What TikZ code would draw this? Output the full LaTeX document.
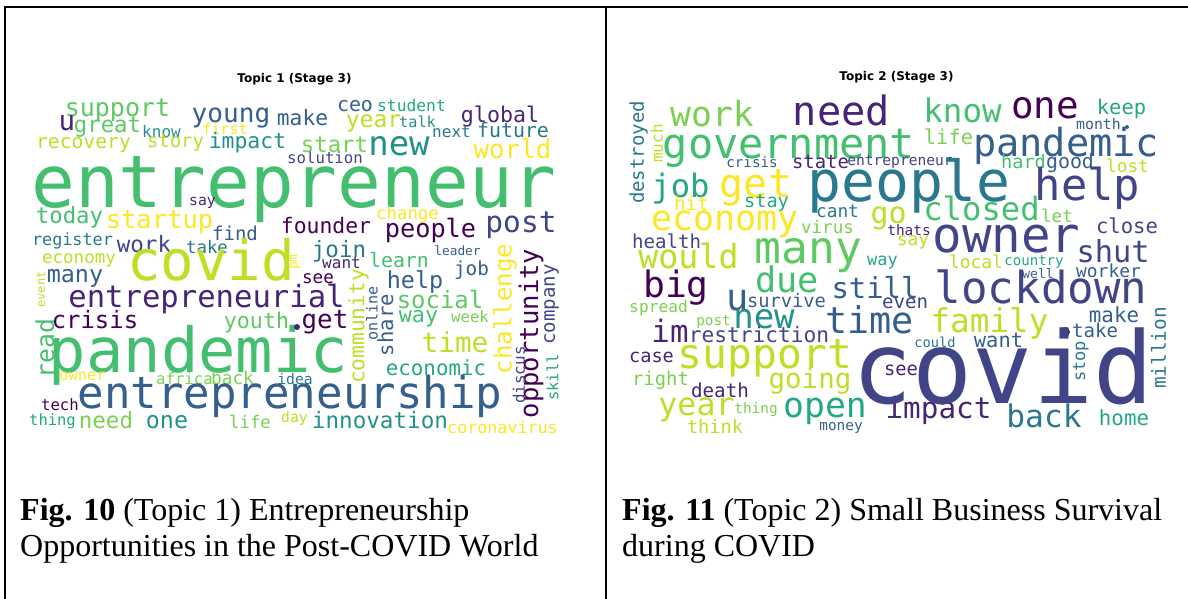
\documentclass[tikz,border=0pt]{standalone}
\usepackage{fontspec}
\setmainfont{Liberation Serif}
\newfontfamily\wcfont{DejaVu Sans Mono}
\newfontfamily\ttlfont{DejaVu Sans}
\definecolor{v1}{HTML}{440154}
\definecolor{v2}{HTML}{482475}
\definecolor{v3}{HTML}{414487}
\definecolor{v4}{HTML}{355F8D}
\definecolor{v5}{HTML}{2A788E}
\definecolor{v6}{HTML}{21918C}
\definecolor{v65}{HTML}{22A884}
\definecolor{v7}{HTML}{44BF70}
\definecolor{v75}{HTML}{5EC962}
\definecolor{v8}{HTML}{7AD151}
\definecolor{v9}{HTML}{BDDF26}
\definecolor{v10}{HTML}{FDE725}
\newcounter{wcn}
\tikzset{
  wordh/.style={anchor=base,inner sep=0pt,outer sep=0pt},
  wordv/.style={anchor=center,inner sep=0pt,outer sep=0pt,rotate=90},
  frameline/.style={line width=2pt,black},
  caption/.style={anchor=base west,inner sep=0pt,font=\fontsize{32}{36}\selectfont},
  ttl/.style={anchor=center,inner sep=0pt,font=\ttlfont\bfseries\fontsize{12}{12}\selectfont}
}
\newcommand\WH[5]{\stepcounter{wcn}\node[wordh,text=#4,font=\wcfont\fontsize{#3}{#3}\selectfont] (w\arabic{wcn}) at (#1,#2) {#5};}
\newcommand\WV[5]{\stepcounter{wcn}\node[wordv,text=#4,font=\wcfont\fontsize{#3}{#3}\selectfont] (w\arabic{wcn}) at (#1,#2) {#5};}
\begin{document}
\begin{tikzpicture}[x=1pt,y=-1pt]
\useasboundingbox[fill=white] (0,0) rectangle (1188,599);
% frame
\coordinate (tl) at (5,7);
\coordinate (tr) at (1188,7);
\coordinate (bl) at (5,599);
\coordinate (mt) at (606,7);
\coordinate (mb) at (606,599);
\draw[frameline] (tr) -- (tl) -- (bl);
\draw[frameline] (mt) -- (mb);
% titles
\node[ttl] (t1) at (294.5,79) {Topic 1 (Stage 3)};
\node[ttl] (t2) at (896.5,77) {Topic 2 (Stage 3)};
% ---------------- left cloud ----------------
\WH{117.5}{117}{25.0}{v75}{support}
\WH{231}{123}{26.1}{v4}{young}
\WH{302.5}{125}{21.2}{v4}{make}
\WH{67}{131}{27.5}{v2}{u}
\WH{107.5}{132}{22.3}{v75}{great}
\WH{161.5}{137}{16.0}{v6}{know}
\WH{225}{135}{15.1}{v10}{first}
\WH{83.5}{148}{19.7}{v9}{recovery}
\WH{175.5}{147}{18.9}{v9}{story}
\WH{247.5}{149}{21.4}{v6}{impact}
\WH{325}{163}{15.7}{v3}{solution}
\WH{294}{207}{72.7}{v7}{entrepreneur}
\WH{202.5}{205}{14.7}{v2}{say}
\WH{69.5}{223}{22.3}{v7}{today}
\WH{159.5}{228}{25.5}{v10}{startup}
\WH{326}{233}{21.4}{v1}{founder}
\WH{235}{240}{19.1}{v4}{find}
\WH{72.5}{245}{16.8}{v5}{register}
\WH{144}{252}{22.5}{v3}{work}
\WH{207}{253}{17.3}{v5}{take}
\WH{355}{112}{19.9}{v4}{ceo}
\WH{411.5}{112}{16.3}{v65}{student}
\WH{373.5}{128}{23}{v9}{year}
\WH{417.5}{128}{15.2}{v6}{talk}
\WH{500}{123}{21.6}{v2}{global}
\WH{451.5}{137}{16}{v5}{next}
\WH{513}{137}{19.9}{v5}{future}
\WH{334.5}{153}{22.3}{v8}{start}
\WH{399}{155}{34}{v6}{new}
\WH{512.5}{158}{25.8}{v10}{world}
\WH{407.5}{219}{17.4}{v10}{change}
\WH{430.5}{237}{25.3}{v1}{people}
\WH{521}{232}{29.5}{v3}{post}
\WH{457.5}{255}{12.8}{v4}{leader}
\WH{339}{257}{22.5}{v5}{join}
\WH{79}{263}{17.5}{v9}{economy}
\WH{211}{280}{55.7}{v9}{covid}
\WH{75}{282}{23.4}{v4}{many}
\WH{206.5}{307}{30.6}{v2}{entrepreneurial}
\WH{318}{283}{17.6}{v1}{see}
\WH{341.5}{268}{16}{v2}{want}
\WH{399}{267}{19.9}{v7}{learn}
\WH{415}{288}{23.4}{v4}{help}
\WH{471.5}{275}{19.3}{v4}{job}
\WH{440}{308}{23.9}{v75}{social}
\WH{418.5}{322}{21.7}{v7}{way}
\WH{470}{322}{15.6}{v8}{week}
\WH{325}{328}{25.8}{v1}{get}
\WH{256.5}{328}{21.6}{v75}{youth}
\WH{95}{328}{23.9}{v1}{crisis}
\WH{198.5}{372}{62.1}{v7}{pandemic}
\WH{455}{352}{27.7}{v9}{time}
\WH{436}{375}{20.8}{v65}{economic}
\WH{82.5}{380}{15.5}{v10}{owner}
\WH{184.5}{384}{15.7}{v8}{africa}
\WH{232.5}{384}{17.8}{v8}{back}
\WH{295}{384}{14.7}{v5}{idea}
\WH{290}{408}{44.1}{v4}{entrepreneurship}
\WH{60}{410}{15.6}{v1}{tech}
\WH{52.5}{425}{15.5}{v65}{thing}
\WH{106}{428}{22.5}{v8}{need}
\WH{167}{428}{23.4}{v6}{one}
\WH{250}{428}{17.3}{v8}{life}
\WH{294.5}{422}{14.7}{v9}{day}
\WH{380}{428}{22.6}{v6}{innovation}
\WH{502.5}{433}{16.7}{v10}{coronavirus}
\WV{295}{262}{13}{v10}{pm}
\WV{41}{289.5}{12}{v9}{event}
\WV{505}{309}{24.1}{v10}{challenge}
\WV{531}{333.5}{25.6}{v1}{opportunity}
\WV{551.5}{304.5}{19}{v3}{company}
\WV{552.5}{377.5}{15.5}{v65}{skill}
\WV{519}{375}{15.9}{v3}{discus}
\WV{358.5}{326.5}{21.2}{v9}{community}
\WV{372}{313.5}{15.1}{v4}{online}
\WV{385.5}{325}{20.6}{v4}{share}
\WV{45}{348.5}{24.7}{v7}{read}
\fill[v2] (297,327) circle (3);
% ---------------- right cloud ----------------
\WH{712}{127}{34.7}{v8}{work}
\WH{841.5}{125}{40.3}{v2}{need}
\WH{789}{158}{41.9}{v7}{government}
\WH{752}{167}{14.2}{v4}{crisis}
\WH{820.5}{168}{18.9}{v2}{state}
\WH{900}{165}{14.6}{v3}{entrepreneur}
\WH{680.5}{197}{32.2}{v65}{job}
\WH{756}{197}{39.9}{v10}{get}
\WH{909}{201}{56.4}{v5}{people}
\WH{691.5}{210}{19.3}{v10}{hit}
\WH{766.5}{207}{18.6}{v65}{stay}
\WH{888.5}{223}{29.9}{v9}{go}
\WH{837.5}{217}{17.8}{v5}{cant}
\WH{725}{230}{35}{v10}{economy}
\WH{827.5}{233}{17.5}{v8}{virus}
\WH{909}{235}{14.4}{v2}{thats}
\WH{666.5}{248}{19.1}{v3}{health}
\WH{962.5}{123}{32.5}{v7}{know}
\WH{1045}{119}{37.5}{v1}{one}
\WH{1121.5}{115}{20.4}{v65}{keep}
\WH{1098.5}{130}{14.8}{v4}{month}
\fill[v4] (1127,127) circle (2);
\WH{948.5}{145}{20.4}{v8}{life}
\WH{1066}{157}{38.6}{v4}{pandemic}
\WH{1023.5}{168}{18.6}{v7}{hard}
\WH{1070}{168}{19.9}{v4}{good}
\WH{1127.5}{172}{17.8}{v9}{lost}
\WH{1087.5}{200}{43.8}{v3}{help}
\WH{981.5}{220}{32.2}{v7}{closed}
\WH{1057}{222}{17.6}{v8}{let}
\WH{1127}{233}{20.6}{v3}{close}
\WH{913}{245}{17.6}{v9}{say}
\WH{1006.5}{252}{49.1}{v3}{owner}
\WH{1113}{262}{30.3}{v3}{shut}
\WH{688.5}{268}{33.3}{v9}{would}
\WH{808.5}{263}{44.6}{v75}{many}
\WH{882.5}{265}{17}{v65}{way}
\WH{676}{297}{36.3}{v1}{big}
\WH{738}{310}{37}{v4}{u}
\WH{787}{292}{35.2}{v7}{due}
\WH{875}{298}{28.9}{v4}{still}
\WH{905}{308}{19.1}{v3}{even}
\WH{658.5}{312}{16.2}{v8}{spread}
\WH{786.5}{307}{18.7}{v4}{survive}
\WH{764}{328}{34}{v6}{new}
\WH{713.5}{325}{14.3}{v8}{post}
\WH{869.5}{333}{36.8}{v4}{time}
\WH{670}{342}{30.8}{v2}{im}
\WH{759}{342}{21.2}{v3}{restriction}
\WH{651.5}{362}{18.6}{v2}{case}
\WH{765}{368}{41.3}{v9}{support}
\WH{660.5}{385}{18.9}{v8}{right}
\WH{720}{397}{19.2}{v2}{death}
\WH{810}{388}{27.5}{v9}{going}
\WH{696.5}{415}{31.6}{v9}{year}
\WH{756}{413}{14.4}{v8}{thing}
\WH{825}{417}{34.7}{v65}{open}
\WH{715}{433}{18.6}{v9}{think}
\WH{841}{430}{14.4}{v4}{money}
\WH{938.5}{418}{29.3}{v2}{impact}
\WH{976}{268}{17.9}{v9}{local}
\WH{1034}{265}{14.1}{v65}{country}
\WH{1038}{278}{13}{v4}{well}
\WH{1108.5}{277}{17.9}{v4}{worker}
\WH{1041}{303}{44.1}{v3}{lockdown}
\WH{989.5}{332}{32.7}{v9}{family}
\WH{1114}{322}{20.8}{v4}{make}
\WH{1095}{337}{19.1}{v4}{take}
\fill[v2] (1065,332) circle (5);
\WH{935}{347}{13.7}{v5}{could}
\WH{998.5}{347}{20.4}{v4}{want}
\WH{1003}{403}{99.7}{v3}{covid}
\WH{901}{375}{18.8}{v2}{see}
\WH{1044}{427}{31.2}{v5}{back}
\WH{1124}{425}{20.8}{v65}{home}
\WV{638.5}{152.5}{19}{v5}{destroyed}
\WV{657}{143.5}{16}{v9}{much}
\WV{1081}{361.5}{17}{v5}{stop}
\WV{1158.5}{348}{19.4}{v5}{million}
% captions
\node[caption] (c1a) at (20,520) {\textbf{Fig. 10} (Topic 1) Entrepreneurship};
\node[caption] (c1b) at (20,556) {Opportunities in the Post-COVID World};
\node[caption] (c2a) at (622,520) {\textbf{Fig. 11} (Topic 2) Small Business Survival};
\node[caption] (c2b) at (622,556) {during COVID};
\end{tikzpicture}
\end{document}
